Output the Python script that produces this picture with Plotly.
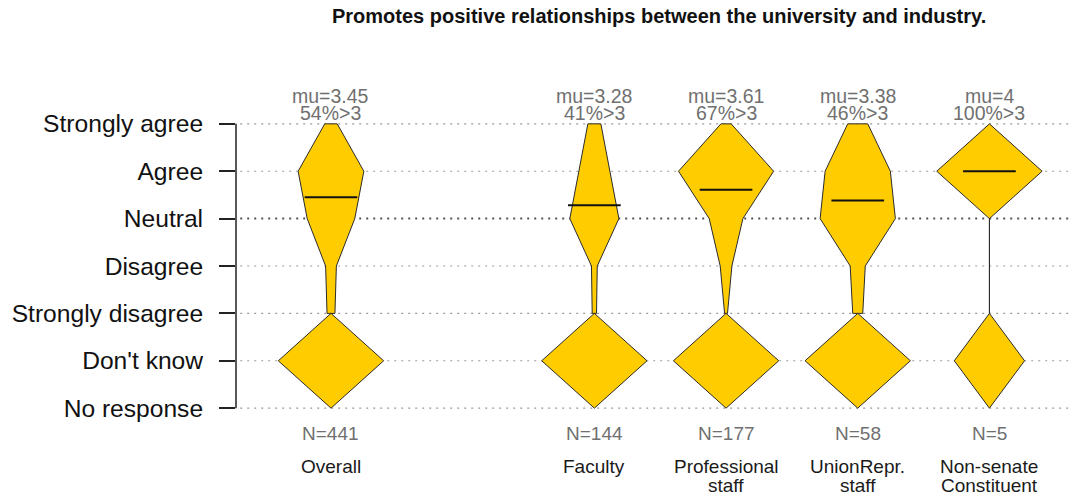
import plotly.graph_objects as go

# ---------------- data ----------------
levels = ["No response", "Don't know", "Strongly disagree", "Disagree",
          "Neutral", "Agree", "Strongly agree"]
group_lines = [["Overall"], ["Faculty"], ["Professional", "staff"],
               ["UnionRepr.", "staff"], ["Non-senate", "Constituent"]]
group_pos = [1, 3, 4, 5, 6]

# counts per level in the order of `levels` (NR, DK, SD, D, N, A, SA)
counts_overall = [0, 186, 14, 19, 84, 116, 22]
counts_faculty = [0, 73, 3, 4, 34, 21, 9]
counts_professional = [0, 72, 2, 8, 23, 65, 7]
counts_union = [0, 21, 2, 3, 15, 13, 4]
counts_nonsenate = [0, 2, 0, 0, 0, 3, 0]
all_counts = [counts_overall, counts_faculty, counts_professional,
              counts_union, counts_nonsenate]

n_total = [441, 144, 177, 58, 5]
mu = [3.45, 3.28, 3.61, 3.38, 4]
pct_gt3 = [54, 41, 67, 46, 100]

title = "Promotes positive relationships between the university and industry."

# ---------------- styling ----------------
FILL = "#FFCC00"
EDGE = "#2b2b2b"
FONT = "Liberation Sans, Arial, sans-serif"
MAXW = 0.4      # max half width (x units)
MEANW = 0.2     # half length of mean bar

fig = go.Figure()

for pos, counts, m in zip(group_pos, all_counts, mu):
    cmax = max(counts)
    hw = [MAXW * c / cmax for c in counts]
    # body: Strongly disagree .. Strongly agree
    body_idx = list(range(2, 7))
    xs = [pos + hw[k] for k in body_idx] + [pos - hw[k] for k in reversed(body_idx)]
    ys = body_idx + list(reversed(body_idx))
    fig.add_trace(go.Scatter(x=xs + [xs[0]], y=ys + [ys[0]], mode="lines",
                             fill="toself", fillcolor=FILL,
                             line=dict(color=EDGE, width=1),
                             hoverinfo="skip", showlegend=False))
    # "Don't know" diamond: No response .. Strongly disagree apex
    dw = [hw[0], hw[1], 0.0]
    dy = [0, 1, 2]
    xs = [pos + w for w in dw] + [pos - w for w in reversed(dw)]
    ys = dy + list(reversed(dy))
    fig.add_trace(go.Scatter(x=xs + [xs[0]], y=ys + [ys[0]], mode="lines",
                             fill="toself", fillcolor=FILL,
                             line=dict(color=EDGE, width=1),
                             hoverinfo="skip", showlegend=False))
    # mean bar (mu on 1..5 scale -> level index mu+1)
    fig.add_trace(go.Scatter(x=[pos - MEANW, pos + MEANW], y=[m + 1, m + 1],
                             mode="lines", line=dict(color="#111111", width=2),
                             hoverinfo="skip", showlegend=False))

# gridlines
shapes = []
for k in range(len(levels)):
    neutral = levels[k] == "Neutral"
    shapes.append(dict(type="line", xref="paper", x0=0.005, x1=1, yref="y",
                       y0=k, y1=k, layer="below",
                       line=dict(color="#555555" if neutral else "#9a9a9a",
                                 width=2 if neutral else 1.2,
                                 dash="2px,5px")))
# axis line (only over the level range)
shapes.append(dict(type="line", xref="paper", x0=0, x1=0, yref="y",
                   y0=0, y1=len(levels) - 1,
                   line=dict(color="#222222", width=1.5)))

ann = []
SA = len(levels) - 1
for pos, m, p, n, lines in zip(group_pos, mu, pct_gt3, n_total, group_lines):
    ann.append(dict(x=pos, y=SA, xref="x", yref="y", text=f"mu={m:g}",
                    showarrow=False, yshift=27.5,
                    font=dict(family=FONT, size=19.5, color="#707070")))
    ann.append(dict(x=pos, y=SA, xref="x", yref="y", text=f"{p}%>3",
                    showarrow=False, yshift=10.5,
                    font=dict(family=FONT, size=19.5, color="#707070")))
    ann.append(dict(x=pos, y=0, xref="x", yref="y", text=f"N={n}",
                    showarrow=False, yshift=-25.8,
                    font=dict(family=FONT, size=19, color="#707070")))
    for i, ln in enumerate(lines):
        ann.append(dict(x=pos, y=0, xref="x", yref="y", text=ln,
                        showarrow=False, yshift=-58.2 - 18.7 * i,
                        font=dict(family=FONT, size=19, color="#1a1a1a")))

ann.append(dict(x=0.503, y=SA, xref="paper", yref="y", text=f"<b>{title}</b>",
                showarrow=False, yshift=107.5,
                font=dict(family=FONT, size=20, color="#111111")))

# page body has an 8px margin: shrink the figure accordingly
fig.update_layout(
    width=1069, height=494,
    margin=dict(l=228, r=0, t=104, b=82),
    paper_bgcolor="white", plot_bgcolor="white",
    shapes=shapes, annotations=ann, showlegend=False,
    xaxis=dict(range=[0.2787, 6.665], visible=False, fixedrange=True),
    yaxis=dict(range=[-0.25, 6.25], tickmode="array",
               tickvals=list(range(len(levels))), ticktext=levels,
               ticks="outside", ticklen=16, tickwidth=1.5, tickcolor="#222222",
               showgrid=False, zeroline=False, showline=False,
               ticklabelstandoff=11,
               tickfont=dict(family=FONT, size=24.6, color="#111111"),
               fixedrange=True),
)

fig.write_html("out.html")
